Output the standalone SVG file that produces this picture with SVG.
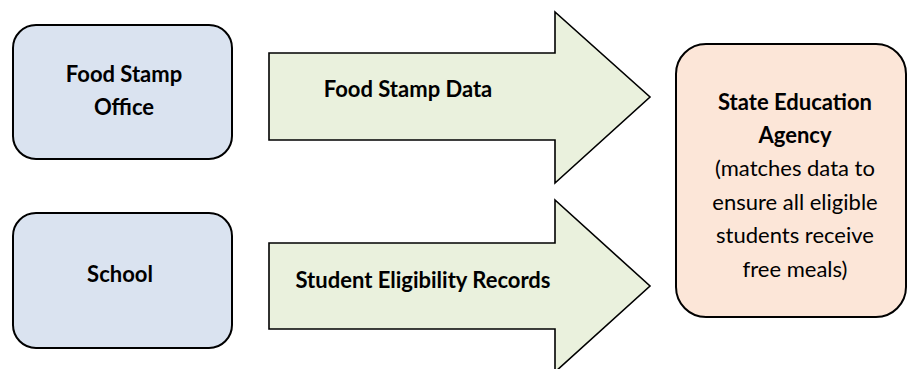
<svg xmlns="http://www.w3.org/2000/svg" width="907" height="369" viewBox="0 0 907 369">
<style>
.src{fill:#DAE3F0;stroke:#000;stroke-width:2}
.dst{fill:#FCE6D8;stroke:#000;stroke-width:2}
.arr{fill:#EAF1DD;stroke:#000;stroke-width:1.6;stroke-linejoin:miter}
text{font-family:Lato,"Liberation Sans",sans-serif;font-size:22px;fill:#000;text-anchor:middle}
.b{font-weight:bold}
</style>
<rect width="907" height="369" fill="#fff"/>
<g id="connectors">
<g id="arrow-food-stamp-data">
<path class="arr" d="M269,53 H555 V12 L650,97 L555,183 V140 H269 Z"/>
<text class="b" x="408" y="97">Food Stamp Data</text>
</g>
<g id="arrow-student-eligibility">
<path class="arr" d="M269,243 H555 V200 L650,286 L555,372 V329 H269 Z"/>
<text class="b" x="423" y="288">Student Eligibility Records</text>
</g>
</g>
<g id="food-stamp-office">
<rect class="src" x="13" y="25" width="219" height="134" rx="23"/>
<text class="b" x="124" y="82">Food Stamp</text>
<text class="b" x="124" y="115">Office</text>
</g>
<g id="school">
<rect class="src" x="13" y="213" width="219" height="135" rx="23"/>
<text class="b" x="120" y="282">School</text>
</g>
<g id="state-education-agency">
<rect class="dst" x="676" y="44" width="230" height="273" rx="30"/>
<text class="b" x="795" y="110">State Education</text>
<text class="b" x="795" y="143">Agency</text>
<text x="795" y="176">(matches data to</text>
<text x="795" y="210">ensure all eligible</text>
<text x="795" y="243">students receive</text>
<text x="795" y="277">free meals)</text>
</g>
</svg>
